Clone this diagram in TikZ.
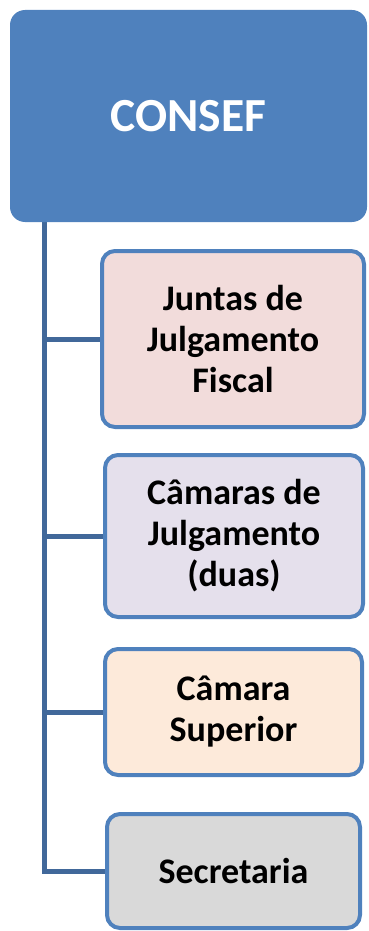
\documentclass[tikz,border=0pt]{standalone}
\usepackage{fontspec}
\setmainfont{Carlito}
\usetikzlibrary{backgrounds}
\definecolor{topblue}{HTML}{4F81BD}
\definecolor{linkblue}{HTML}{41689A}
\definecolor{fillA}{HTML}{F2DCDB}
\definecolor{fillB}{HTML}{E5E0EC}
\definecolor{fillC}{HTML}{FDEADA}
\definecolor{fillD}{HTML}{D9D9D9}
\tikzset{
  unitbox/.style={draw=topblue, line width=4pt, rounded corners=13pt, inner sep=0pt,
    align=center, font=\fontsize{36}{41}\selectfont\bfseries},
  linkline/.style={draw=linkblue, line width=5pt}
}
\begin{document}
\begin{tikzpicture}[x=1pt,y=-1pt]
\useasboundingbox (0,0) rectangle (368,931);
\node[fill=topblue, rounded corners=15pt, minimum width=357pt, minimum height=212pt,
  inner sep=0pt, text=white, font=\fontsize{47.5}{52}\selectfont\bfseries] (consef) at (188.5,116) {CONSEF};
\node[unitbox, fill=fillA, minimum width=262pt, minimum height=176pt] (b1) at (233,339) {Juntas de\\Julgamento\\Fiscal};
\node[unitbox, fill=fillB, minimum width=258pt, minimum height=162pt] (b2) at (234,536) {Câmaras de\\Julgamento\\(duas)};
\node[unitbox, fill=fillC, minimum width=257pt, minimum height=126pt] (b3) at (233.5,712) {Câmara\\Superior};
\node[unitbox, fill=fillD, minimum width=253pt, minimum height=114pt] (b4) at (233.5,871) {Secretaria};
\coordinate (t) at (44.5,222);
\begin{scope}[on background layer]
\draw[linkline] (t) |- (b4.west);
\draw[linkline] (t) |- (b1.west);
\draw[linkline] (t) |- (b2.west);
\draw[linkline] (t) |- (b3.west);
\end{scope}
\end{tikzpicture}
\end{document}
